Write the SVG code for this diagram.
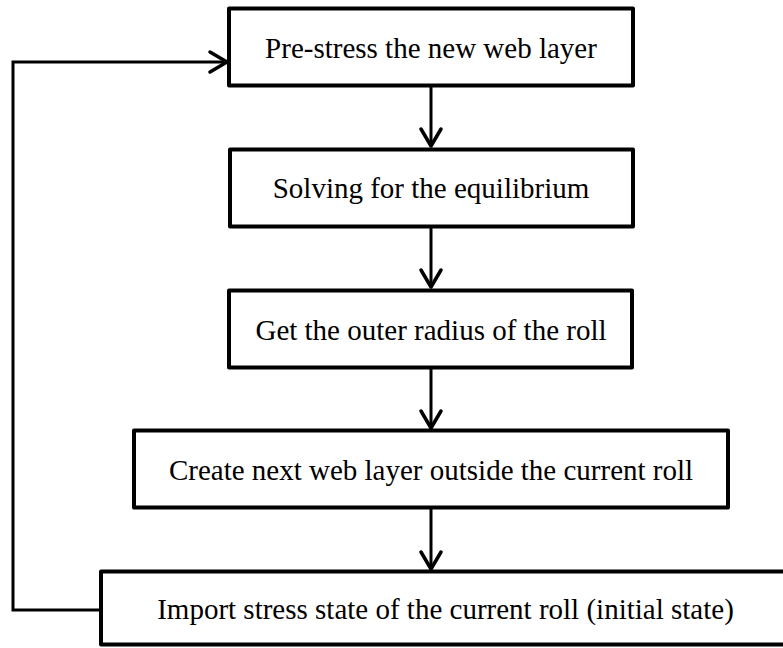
<svg xmlns="http://www.w3.org/2000/svg" width="783" height="648" viewBox="0 0 783 648">
<style>
.box{fill:#fff;stroke:#000;stroke-width:4;stroke-linejoin:round}
.lbl{font-family:"Liberation Serif","Times New Roman",serif;font-size:29px;fill:#000;text-anchor:middle}
.conn{fill:none;stroke:#000;stroke-width:3}
</style>
<defs>
<marker id="ah" markerUnits="userSpaceOnUse" markerWidth="24" markerHeight="26" viewBox="-20 -13 24 26" refX="0" refY="0" orient="auto">
<path d="M-17,-10 L0,0 L-17,10" fill="none" stroke="#000" stroke-width="3.5" stroke-linecap="round" stroke-linejoin="round"/>
</marker>
</defs>
<rect width="783" height="648" fill="#fff"/>
<g id="connectors">
<line class="conn" x1="431" y1="86" x2="431" y2="146" marker-end="url(#ah)"/>
<line class="conn" x1="431" y1="227" x2="431" y2="287" marker-end="url(#ah)"/>
<line class="conn" x1="431" y1="368" x2="431" y2="428" marker-end="url(#ah)"/>
<line class="conn" x1="431" y1="508" x2="431" y2="569" marker-end="url(#ah)"/>
<polyline class="conn" points="100,610 13,610 13,62 227,62" marker-end="url(#ah)"/>
</g>
<g id="n1"><rect class="box" x="229" y="8.5" width="404" height="77"/><text class="lbl" x="431" y="57.5">Pre-stress the new web layer</text></g>
<g id="n2"><rect class="box" x="230" y="149.5" width="403" height="77"/><text class="lbl" x="431" y="198">Solving for the equilibrium</text></g>
<g id="n3"><rect class="box" x="229" y="290.5" width="403" height="77"/><text class="lbl" x="431" y="339.5">Get the outer radius of the roll</text></g>
<g id="n4"><rect class="box" x="134" y="430.5" width="594" height="77"/><text class="lbl" x="431" y="479.5">Create next web layer outside the current roll</text></g>
<g id="n5"><rect class="box" x="101" y="571.5" width="700" height="73"/><text class="lbl" x="445.5" y="618.5">Import stress state of the current roll (initial state)</text></g>
</svg>
